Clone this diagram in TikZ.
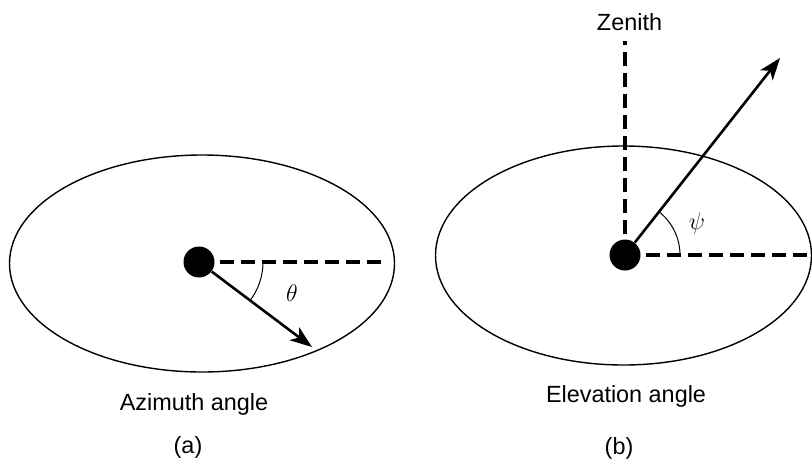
\documentclass[tikz,border=0pt]{standalone}
\usepackage{fontspec}
\setmainfont{Liberation Sans}
\usetikzlibrary{arrows.meta}

\begin{document}
\begin{tikzpicture}[x=0.5pt,y=-0.5pt,font=\fontsize{11.7}{14}\selectfont,
 d/.style={circle,fill=black,inner sep=0pt,minimum size=15.5pt},
 v/.style={-{Stealth[length=11pt,width=8pt,inset=3pt]},line width=1.3pt},
 h/.style={dash pattern=on 7pt off 3.5pt,line width=1.6pt},
 e/.style={line width=0.7pt},
 a/.style={line width=0.5pt},
 l/.style={anchor=base,inner sep=0pt}]
\useasboundingbox (0,0) rectangle (812,461);
% (a) azimuth
\draw[e] (202,263.5) ellipse [x radius=192.5,y radius=108.5];
\node[d](o1) at (199,262){};
\coordinate (e1) at (387,262);
\coordinate (t1) at (312,347);
\draw[h](o1.center)--(e1);
\draw[v](o1)--(t1);
\draw[a]([shift={(0:64)}]o1.center) arc[start angle=0,end angle=37,radius=64];
\node(th) at (292,293){$\theta$};
\node[l](az) at (194,410){Azimuth angle};
\node[l](ca) at (188,453){(a)};
% (b) elevation
\draw[e] (623.5,255.5) ellipse [x radius=188,y radius=109.5];
\node[d](o2) at (625,255){};
\coordinate (e2) at (813,255);
\coordinate (t2) at (780,58);
\coordinate (z) at (625,41);
\node[l](zen) at (629.5,30){Zenith};
\draw[h](o2.center)--(e2);
\draw[h](o2.center)--(z);
\draw[v](o2)--(t2);
\draw[a]([shift={(0:55)}]o2.center) arc[start angle=0,end angle=-52,radius=55];
\node(ps) at (697,223){$\psi$};
\node[l](el) at (626,402){Elevation angle};
\node[l](cb) at (619,454){(b)};
\end{tikzpicture}
\end{document}
